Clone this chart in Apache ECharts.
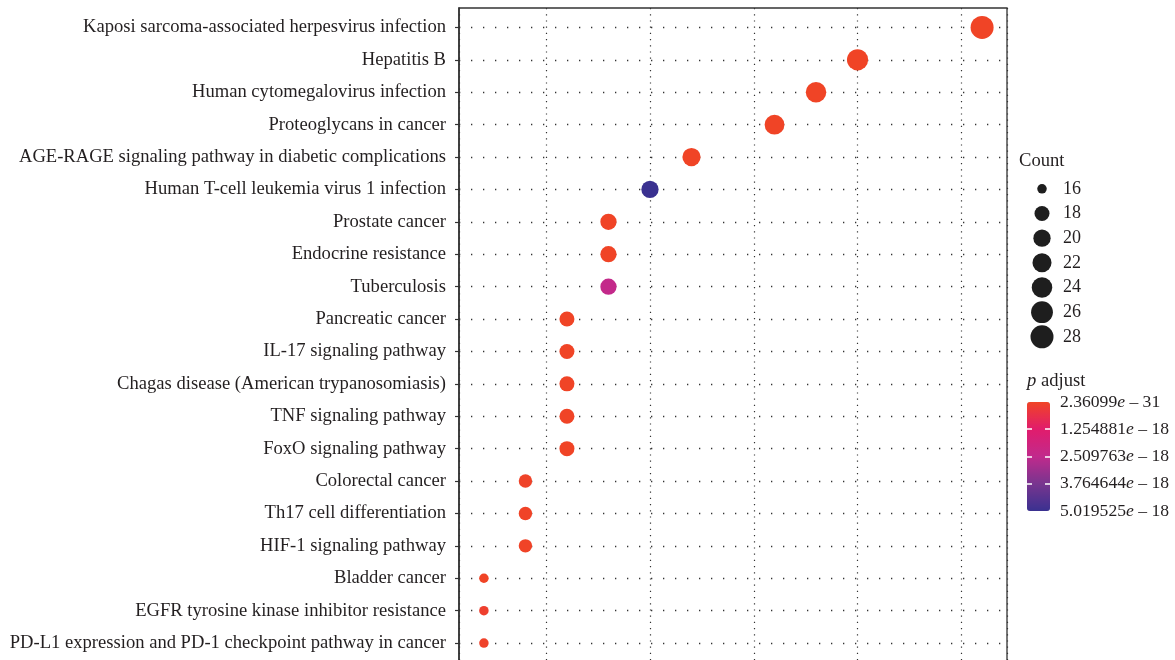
<!DOCTYPE html>
<html>
<head>
<meta charset="utf-8">
<title>KEGG enrichment dot plot</title>
<script src="https://cdn.jsdelivr.net/npm/echarts@6/dist/echarts.min.js"></script>
<style>
  html, body { margin: 0; padding: 0; background: #fff; overflow: hidden; }
  #chart { width: 1175px; height: 700px; }
</style>
</head>
<body>
<div id="chart"></div>
<script>
// KEGG pathways, listed top to bottom
const categories = [
  'Kaposi sarcoma-associated herpesvirus infection',
  'Hepatitis B',
  'Human cytomegalovirus infection',
  'Proteoglycans in cancer',
  'AGE-RAGE signaling pathway in diabetic complications',
  'Human T-cell leukemia virus 1 infection',
  'Prostate cancer',
  'Endocrine resistance',
  'Tuberculosis',
  'Pancreatic cancer',
  'IL-17 signaling pathway',
  'Chagas disease (American trypanosomiasis)',
  'TNF signaling pathway',
  'FoxO signaling pathway',
  'Colorectal cancer',
  'Th17 cell differentiation',
  'HIF-1 signaling pathway',
  'Bladder cancer',
  'EGFR tyrosine kinase inhibitor resistance',
  'PD-L1 expression and PD-1 checkpoint pathway in cancer'
];
const geneRatio = [0.112, 0.100, 0.096, 0.092, 0.084, 0.080, 0.076, 0.076, 0.076, 0.072,
                   0.072, 0.072, 0.072, 0.072, 0.068, 0.068, 0.068, 0.064, 0.064, 0.064];
const counts = [28, 25, 24, 23, 21, 20, 19, 19, 19, 18, 18, 18, 18, 18, 17, 17, 17, 16, 16, 16];
const pAdjust = [2.36099e-31, 4.1e-29, 3.5e-26, 1.2e-24, 6.3e-25, 5.019525e-18, 8.7e-22,
                 2.4e-22, 2.45e-18, 5.2e-23, 1.1e-22, 3.0e-22, 4.4e-22, 7.8e-21, 4.6e-20,
                 1.9e-20, 2.2e-20, 3.1e-23, 1.5e-19, 6.8e-20];

// legend breaks
const countBreaks = [16, 18, 20, 22, 24, 26, 28];
const pBreaks = [2.36099e-31, 1.254881e-18, 2.509763e-18, 3.764644e-18, 5.019525e-18];

const SERIF = '"Liberation Serif", "DejaVu Serif", serif';
const TEXT = '#231F20';
const FS = 18.6;

// point diameter scales with the square root of the count (area scale)
const cMin = countBreaks[0], cMax = countBreaks[countBreaks.length - 1];
function dotSize(c) {
  return 9.5 + 13.5 * Math.sqrt((c - cMin) / (cMax - cMin));
}

function pLabel(v) {
  let best = 0;
  pBreaks.forEach((b, i) => { if (Math.abs(b - v) < Math.abs(pBreaks[best] - v)) best = i; });
  const parts = pBreaks[best].toExponential().split('e');
  return parts[0] + '{i|e} \u2013 ' + parts[1].replace('-', '').replace('+', '');
}

const rowPos = categories.map((_, i) => i + 1);
const points = categories.map((name, i) => [geneRatio[i], i + 1, counts[i], pAdjust[i], name]);

const chart = echarts.init(document.getElementById('chart'), null, { renderer: 'canvas' });
chart.setOption({
  animation: false,
  backgroundColor: '#fff',
  title: [
    { text: 'Count', left: 1019, top: 152, padding: 0,
      textStyle: { fontFamily: SERIF, fontSize: FS, fontWeight: 'normal', color: TEXT } },
    { text: '{i|p} adjust', left: 1027, top: 372, padding: 0,
      textStyle: { fontFamily: SERIF, fontSize: FS, fontWeight: 'normal', color: TEXT,
        rich: { i: { fontFamily: SERIF, fontSize: FS, fontStyle: 'italic', color: TEXT } } } }
  ],
  grid: [
    { left: 459, top: 8, width: 548, height: 654.5, show: true,
      borderColor: '#333', borderWidth: 1.3, backgroundColor: '#fff' },
    { left: 1030, top: 176.5, width: 24, height: 172.7 },
    { left: 1027, top: 402, width: 23, height: 109 }
  ],
  xAxis: [
    { type: 'value', gridIndex: 0, min: 0.0616, max: 0.1144, splitNumber: 5,
      axisLine: { show: false },
      axisTick: { show: true, length: 4, lineStyle: { color: '#333' } },
      axisLabel: { fontFamily: SERIF, fontSize: FS, color: TEXT },
      splitLine: { show: true, lineStyle: { color: '#333', width: 1.2, type: [1.2, 5] } } },
    { type: 'value', gridIndex: 1, min: 0, max: 2, show: false },
    { type: 'value', gridIndex: 2, min: 0, max: 1, show: false }
  ],
  yAxis: [
    { type: 'value', gridIndex: 0, inverse: true, min: 0.4, max: categories.length + 0.6,
      axisLine: { show: true, lineStyle: { color: '#333', width: 1.6 } },
      axisTick: { show: true, length: 4, customValues: rowPos, lineStyle: { color: '#333', width: 1.2 } },
      axisLabel: { customValues: rowPos, margin: 13, fontFamily: SERIF, fontSize: FS, color: TEXT,
        formatter: v => categories[Math.round(v) - 1] },
      splitLine: { show: true, lineStyle: { color: '#333', width: 1.3, type: [1.3, 10.7] } } },
    { type: 'category', gridIndex: 1, inverse: true, position: 'right',
      data: countBreaks.map(String),
      axisLine: { show: false }, axisTick: { show: false }, splitLine: { show: false },
      axisLabel: { interval: 0, margin: 9, fontFamily: SERIF, fontSize: FS - 0.6, color: TEXT } },
    { type: 'value', gridIndex: 2, inverse: true, position: 'right', z: 10,
      min: pBreaks[0], max: pBreaks[pBreaks.length - 1],
      axisLine: { show: false }, splitLine: { show: false }, axisTick: { show: false },
      axisLabel: { customValues: pBreaks, margin: 10, fontFamily: SERIF, fontSize: FS - 1, color: TEXT,
        formatter: pLabel,
        rich: { i: { fontFamily: SERIF, fontSize: FS - 1, fontStyle: 'italic', color: TEXT } } } },
    // white tick marks across the colour bar: a dash at each edge
    { type: 'value', gridIndex: 2, inverse: true, position: 'left', z: 10,
      min: pBreaks[0], max: pBreaks[pBreaks.length - 1],
      axisLine: { show: false }, splitLine: { show: false }, axisLabel: { show: false },
      axisTick: { show: true, inside: true, length: 23, customValues: pBreaks.slice(1, -1),
        lineStyle: { color: '#fff', width: 1.5, type: [5, 13] } } }
  ],
  visualMap: {
    type: 'continuous', seriesIndex: 0, dimension: 3,
    min: pBreaks[0], max: pBreaks[pBreaks.length - 1],
    inverse: true, calculable: false, text: null, showLabel: false,
    left: 1027, top: 402, itemWidth: 23, itemHeight: 109, padding: 0,
    inRange: { color: ['#F04426', '#E11C6C', '#C12A8C', '#78358F', '#3A3190'] }
  },
  series: [
    { type: 'scatter', xAxisIndex: 0, yAxisIndex: 0, data: points,
      symbolSize: d => dotSize(d[2]), itemStyle: { opacity: 1 }, z: 5 },
    { type: 'scatter', xAxisIndex: 1, yAxisIndex: 1,
      data: countBreaks.map((c, i) => [1, i, c]),
      symbolSize: d => dotSize(d[2]), itemStyle: { color: '#1e1e1e', opacity: 1 } }
  ]
});
</script>
</body>
</html>
